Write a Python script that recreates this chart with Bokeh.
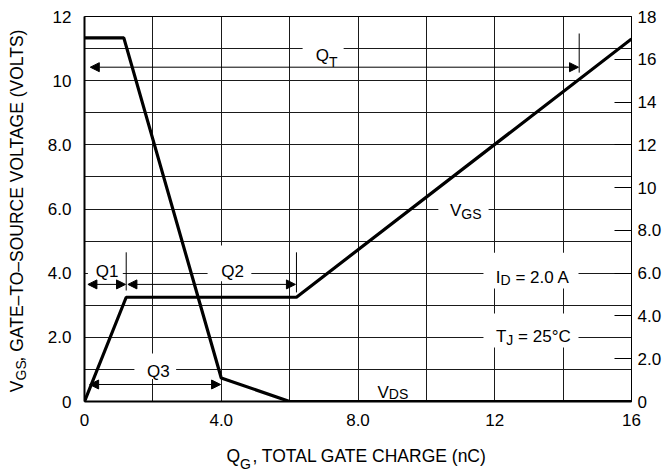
import math
from bokeh.plotting import figure
from bokeh.models import Range1d, LinearAxis, FixedTicker, Label, Arrow, NormalHead
from bokeh.embed import file_html
from bokeh.resources import INLINE

FONT = "Liberation Sans"

# ---------------- data ----------------
gate_charge_vgs = [0.0, 1.22, 6.2, 16.0]
vgs_volts = [0.0, 3.25, 3.25, 11.3]
gate_charge_vds = [0.0, 1.15, 4.0, 6.0, 16.0]
vds_volts = [17.0, 17.0, 1.1, 0.0, 0.0]

x_ticks = [0, 4, 8, 12, 16]
x_tick_labels = ["0", "4.0", "8.0", "12", "16"]
left_ticks = [0, 2, 4, 6, 8, 10, 12]
left_tick_labels = ["0", "2.0", "4.0", "6.0", "8.0", "10", "12"]
right_ticks = [0, 2, 4, 6, 8, 10, 12, 14, 16, 18]
right_tick_labels = ["0", "2.0", "4.0", "6.0", "8.0", "10", "12", "14", "16", "18"]
x_grid = [0, 2, 4, 6, 8, 10, 12, 14, 16]
y_grid = [0, 1, 2, 3, 4, 5, 6, 7, 8, 9, 10, 11, 12]

q1_end = 1.22
q2_end = 6.2
q3_end = 4.0
qt_end = 14.47

# ---------------- figure ----------------
p = figure(width=671, height=476, x_range=Range1d(0, 16), y_range=Range1d(0, 12),
           output_backend="svg", toolbar_location=None,
           min_border_left=84, min_border_right=40, min_border_top=16, min_border_bottom=75)
p.extra_y_ranges = {"vds": Range1d(0, 18)}
p.background_fill_color = "white"
p.border_fill_color = "white"
p.outline_line_color = "black"
p.outline_line_width = 1
p.outline_line_alpha = 1

p.xgrid.ticker = FixedTicker(ticks=x_grid)
p.ygrid.ticker = FixedTicker(ticks=y_grid)
p.grid.grid_line_color = "#1a1a1a"
p.grid.grid_line_width = 1
p.grid.grid_line_alpha = 1

def style_axis(ax, standoff, size="17px"):
    ax.major_label_text_font = FONT
    ax.major_label_text_font_size = size
    ax.major_label_text_color = "black"
    ax.major_tick_out = 0
    ax.major_tick_in = 0
    ax.minor_tick_out = 0
    ax.minor_tick_in = 0
    ax.axis_line_color = "black"
    ax.major_label_standoff = standoff
    ax.axis_label = None

xa = p.xaxis[0]
xa.ticker = FixedTicker(ticks=x_ticks)
xa.major_label_overrides = dict(zip(x_ticks, x_tick_labels))
style_axis(xa, 12)
xa.axis_line_width = 2

ya = p.yaxis[0]
ya.ticker = FixedTicker(ticks=left_ticks)
ya.major_label_overrides = dict(zip(left_ticks, left_tick_labels))
style_axis(ya, 13)
ya.axis_line_width = 2

yr = LinearAxis(y_range_name="vds", ticker=FixedTicker(ticks=right_ticks),
                major_label_overrides=dict(zip(right_ticks, right_tick_labels)))
style_axis(yr, 6)
yr.major_tick_in = 17
yr.major_tick_line_color = "black"
yr.major_tick_line_width = 1
yr.axis_line_width = 1
p.add_layout(yr, "right")

# ---------------- axis titles (carried by label-only axes) ----------------
TS = "17.5px"
x_title_pos = [4.35, 8.34]
x_title_text = ["Q", ", TOTAL GATE CHARGE (nC)"]
x_title_sub_pos = [4.71]
x_title_sub_text = ["G"]
y_title_pos = [0.47, 6.42]
y_title_text = ["V", ", GATE\u2013TO\u2013SOURCE VOLTAGE (VOLTS)"]
y_title_sub_pos = [0.97]
y_title_sub_text = ["GS"]

def title_axis(ticks, labels, standoff, size, vertical=False):
    ax = LinearAxis(ticker=FixedTicker(ticks=ticks),
                    major_label_overrides=dict(zip(ticks, labels)))
    style_axis(ax, standoff, size)
    ax.axis_line_color = None
    ax.major_tick_line_color = None
    ax.minor_tick_line_color = None
    if vertical:
        ax.major_label_orientation = "vertical"
    return ax

p.add_layout(title_axis(x_title_pos, x_title_text, 17, TS), "below")
p.add_layout(title_axis(x_title_sub_pos, x_title_sub_text, -13, "14px"), "below")
p.add_layout(title_axis(y_title_pos, y_title_text, 17, TS, vertical=True), "left")
p.add_layout(title_axis(y_title_sub_pos, y_title_sub_text, -25, "14px", vertical=True), "left")

# ---------------- white label backgrounds ----------------
box_left = [0.1, 3.6, 1.46, 6.38, 10.35, 11.67, 11.67]
box_right = [1.12, 4.88, 2.68, 7.58, 11.82, 14.45, 14.45]
box_bottom = [3.8, 3.75, 0.7, 10.55, 5.6, 3.52, 1.68]
box_top = [4.65, 4.86, 1.5, 11.4, 6.5, 4.64, 2.74]
p.quad(left=box_left, right=box_right, bottom=box_bottom, top=box_top,
       fill_color="white", line_color=None)

# ---------------- curves ----------------
p.line(gate_charge_vgs, vgs_volts, line_color="black", line_width=3.2)
p.line(gate_charge_vds, vds_volts, y_range_name="vds", line_color="black", line_width=3.2)

# ---------------- markers & arrows ----------------
p.segment(x0=[q1_end, q2_end, qt_end], y0=[3.46, 3.40, 10.25],
          x1=[q1_end, q2_end, qt_end], y1=[4.65, 4.65, 11.47],
          line_color="black", line_width=1)

def arrow(x0, x1, y):
    p.add_layout(Arrow(x_start=x0, y_start=y, x_end=x1, y_end=y,
                       start=NormalHead(size=9, fill_color="black", line_color="black", line_width=1),
                       end=NormalHead(size=9, fill_color="black", line_color="black", line_width=1),
                       line_color="black", line_width=1))

arrow(0.1, q1_end - 0.02, 3.65)
arrow(q1_end + 0.05, q2_end - 0.03, 3.65)
arrow(0.15, q3_end - 0.02, 0.53)
arrow(0.17, qt_end - 0.02, 10.42)

# ---------------- texts ----------------
def txt(x, y, text, size=17, align="left", x_off=0, y_off=0):
    p.add_layout(Label(x=x, y=y, text=text, text_font=FONT, text_font_size=f"{size}px",
                       text_align=align, text_baseline="alphabetic", text_color="black",
                       x_offset=x_off, y_offset=y_off))

W = {"G": 0.778, "S": 0.667, "D": 0.722, "T": 0.611, "J": 0.5, " ": 0.278}

def sub_txt(x, y, main, sub, rest="", size=17, sub_size=14, drop=4):
    txt(x, y, main, size, "right")
    txt(x, y, sub, sub_size, "left", y_off=-drop)
    if rest:
        w = sum(W[c] for c in sub) * sub_size + W[" "] * size
        txt(x, y, rest, size, "left", x_off=w)

txt(0.66, 4.05, "Q1", align="center")
txt(4.33, 4.05, "Q2", align="center")
txt(2.16, 0.935, "Q3", align="center")
sub_txt(7.15, 10.78, "Q", "T", drop=6)
sub_txt(11.02, 5.95, "V", "GS", drop=3)
sub_txt(8.9, 0.29, "V", "DS", drop=2)
sub_txt(12.17, 3.865, "I", "D", "= 2.0 A", drop=3)
sub_txt(12.34, 2.03, "T", "J", "= 25\u00b0C", drop=4)

open("out.html", "w").write(file_html(p, INLINE))
